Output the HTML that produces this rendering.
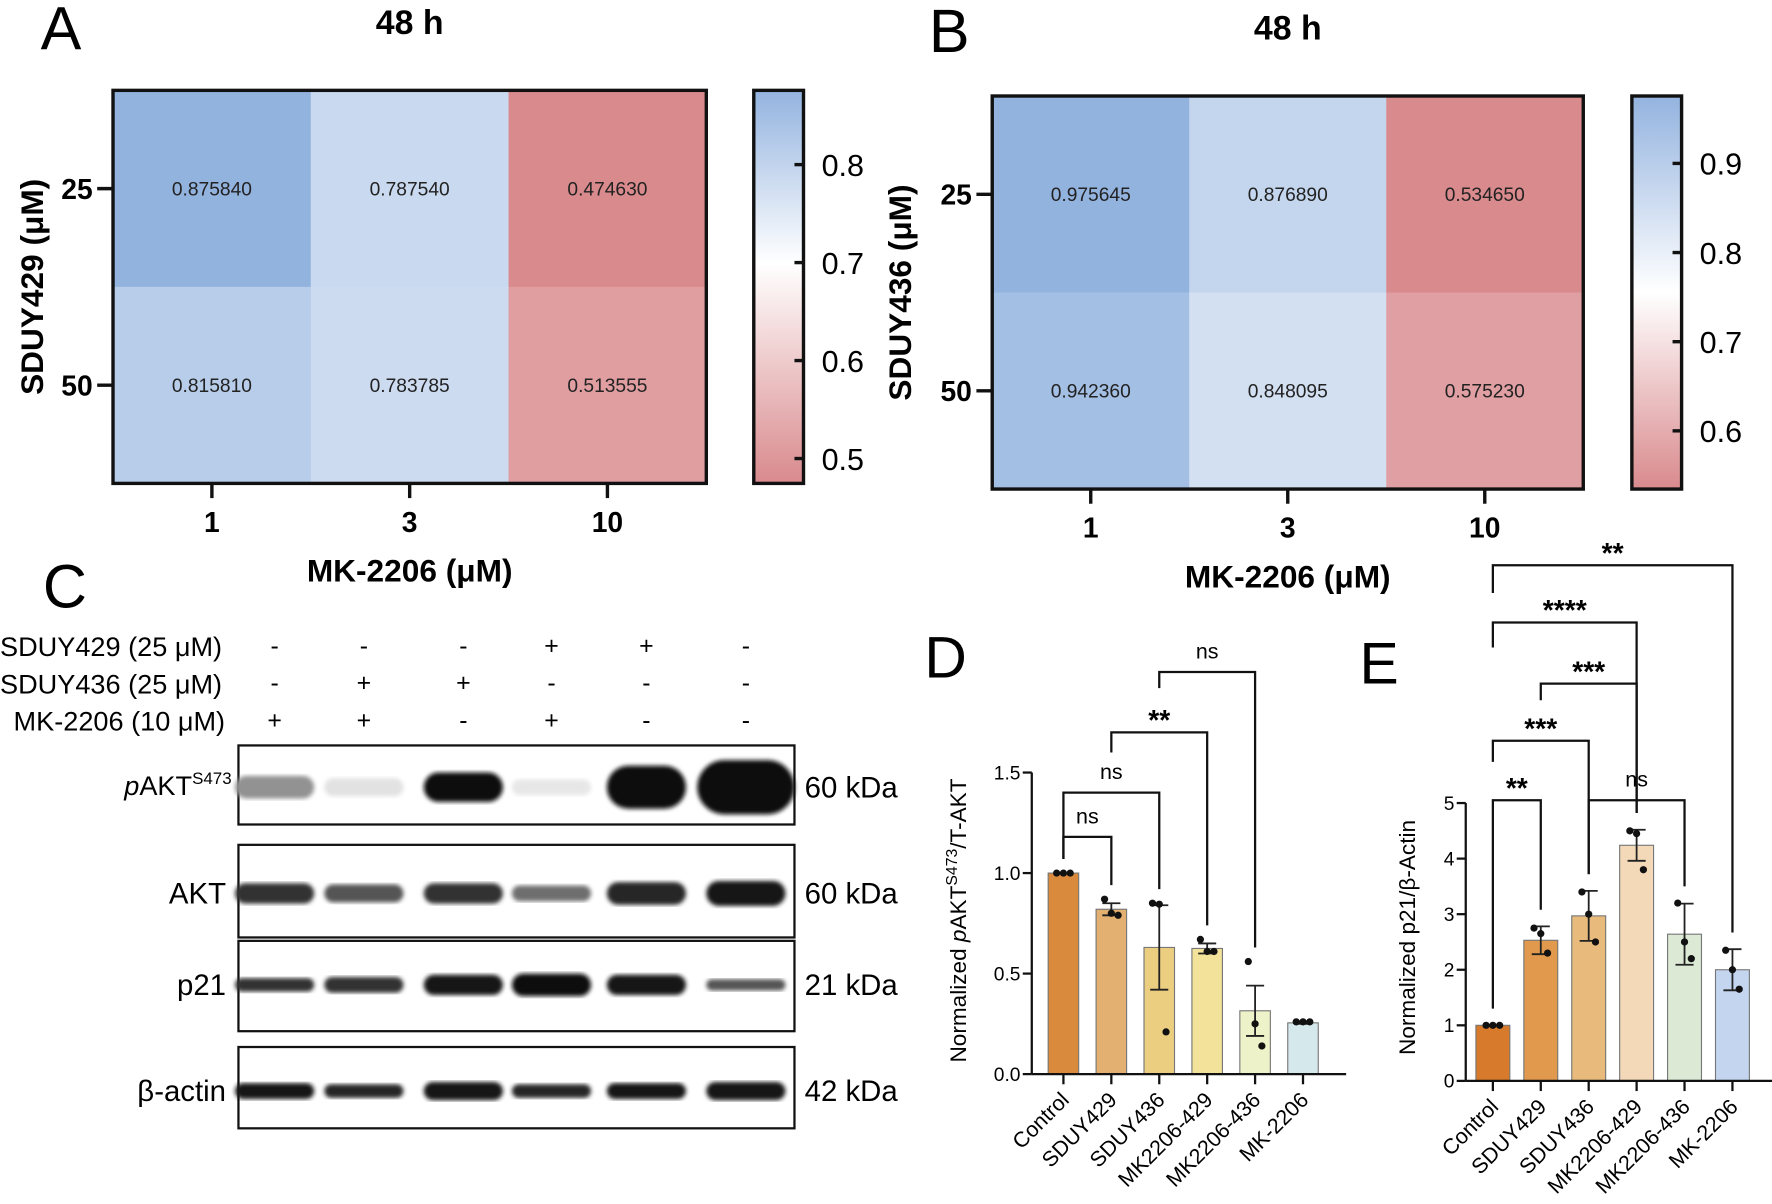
<!DOCTYPE html>
<html><head><meta charset="utf-8"><style>
html,body{margin:0;padding:0;background:#fff;}
svg{display:block;font-family:"Liberation Sans",Arial,sans-serif;}
</style></head><body>
<svg id="fig" width="1772" height="1204" viewBox="0 0 1568 1066" preserveAspectRatio="none">
<defs>
<linearGradient id="cbA" x1="0" y1="0" x2="0" y2="1">
<stop offset="0" stop-color="#93b3df"/><stop offset="0.44" stop-color="#ffffff"/><stop offset="1" stop-color="#d98a8d"/></linearGradient>
<linearGradient id="cbB" x1="0" y1="0" x2="0" y2="1">
<stop offset="0" stop-color="#93b3df"/><stop offset="0.5" stop-color="#ffffff"/><stop offset="1" stop-color="#d98a8d"/></linearGradient>
<filter id="blur"><feGaussianBlur stdDeviation="1.8"/></filter>
</defs>
<g id="root"></g>
</svg>
<script>
// Heatmap data
const hmCols = ["1","3","10"];
const hmRows = ["25","50"];
const hmA = [[0.875840,0.787540,0.474630],[0.815810,0.783785,0.513555]];
const hmB = [[0.975645,0.876890,0.534650],[0.942360,0.848095,0.575230]];
const cbTicksA = [0.8,0.7,0.6,0.5];
const cbTicksB = [0.9,0.8,0.7,0.6];
// Bar chart D
const catsD = ["Control","SDUY429","SDUY436","MK2206-429","MK2206-436","MK-2206"];
const valsD = [1.0,0.82,0.63,0.625,0.315,0.255];
const errD = [0,0.03,0.21,0.025,0.125,0.005];
const ptsD = [[1,1,1],[0.87,0.80,0.79],[0.85,0.845,0.21],[0.67,0.61,0.61],[0.56,0.25,0.14],[0.26,0.26,0.26]];
const ticksD = [0,0.5,1.0,1.5];
const tickLabD = ["0.0","0.5","1.0","1.5"];
const colD = ["#d98a3c","#e3b071","#ecce80","#f2e29a","#eef2c8","#d5e8ec"];
const brD = [[0,1,1.18,"ns",0],[0,2,1.4,"ns",0],[1,3,1.7,"**",0.1],[2,4,2.0,"ns",0.08]];
// Bar chart E
const catsE = ["Control","SDUY429","SDUY436","MK2206-429","MK2206-436","MK-2206"];
const valsE = [1.0,2.53,2.97,4.24,2.64,2.0];
const errE = [0,0.25,0.45,0.28,0.55,0.37];
const ptsE = [[1,1,1],[2.75,2.65,2.3],[3.4,3.0,2.5],[4.5,4.45,3.8],[3.2,2.5,2.2],[2.35,2.0,1.65]];
const ticksE = [0,1,2,3,4,5];
const colE = ["#d87a2b","#e0994d","#e8bb7d","#f3d9b8","#dbe9d5","#c4d6ef"];
const brE = [[0,1,5.05,"**",0],[2,4,5.05,"ns",0],[0,2,6.12,"***",0.38],[1,3,7.15,"***",0.3],[0,3,8.25,"****",0.45],[0,5,9.28,"**",0.5]];

const NS="http://www.w3.org/2000/svg";
const root=document.getElementById('root');
function mk(tag,attrs,parent,text){const e=document.createElementNS(NS,tag);for(const k in attrs)e.setAttribute(k,attrs[k]);if(text!==undefined)e.textContent=text;(parent||root).appendChild(e);return e;}
function lerp(a,b,t){return a+(b-a)*t;}
function hex(c){return [parseInt(c.slice(1,3),16),parseInt(c.slice(3,5),16),parseInt(c.slice(5,7),16)];}
function cmap(v,lo,mid,hi){const B=hex("#93b3df"),W=[255,255,255],R=hex("#d98a8d");let a,b,t;
 if(v>=mid){a=W;b=B;t=(v-mid)/(hi-mid);}else{a=W;b=R;t=(mid-v)/(mid-lo);}t=Math.max(0,Math.min(1,t));
 return "rgb("+a.map((x,i)=>Math.round(lerp(x,b[i],t))).join(",")+")";}

function heatmap(P){
 const g=mk('g',{});
 
 
 const cw=(P.x1-P.x0)/3, rh=(P.y1-P.y0)/2;
 P.data.forEach((row,r)=>row.forEach((v,c)=>{
  const rc=mk('rect',{x:P.x0+c*cw,y:P.y0+r*rh,width:cw+0.5,height:rh+0.5,fill:cmap(v,P.lo,P.mid,P.hi)},g);
  
  
  const t=mk('text',{x:P.x0+(c+0.5)*cw,y:P.y0+(r+0.5)*rh+6,'text-anchor':'middle','font-size':17,fill:'#222'},g,v.toFixed(6));
  
  
 }));
 mk('rect',{x:P.x0,y:P.y0,width:P.x1-P.x0,height:P.y1-P.y0,fill:'none',stroke:'#111','stroke-width':3},g);
 hmRows.forEach((l,r)=>{const y=P.y0+(r+0.5)*rh;mk('line',{x1:P.x0-14,x2:P.x0,y1:y,y2:y,stroke:'#111','stroke-width':3},g);
  const t=mk('text',{x:P.x0-18,y:y+9,'text-anchor':'end','font-size':25,'font-weight':'bold'},g,l);
  
  });
 hmCols.forEach((l,c)=>{const x=P.x0+(c+0.5)*cw;mk('line',{x1:x,x2:x,y1:P.y1,y2:P.y1+13,stroke:'#111','stroke-width':3},g);
  const t=mk('text',{x:x,y:P.y1+43,'text-anchor':'middle','font-size':25,'font-weight':'bold'},g,l);
  
  });
 const cb=mk('rect',{x:P.cx,y:P.y0,width:44,height:P.y1-P.y0,fill:P.grad,stroke:'#111','stroke-width':3},g);
 
 
 P.ticks.forEach(v=>{const y=P.y0+(P.hi-v)/(P.hi-P.lo)*(P.y1-P.y0);
  mk('line',{x1:P.cx+44,x2:P.cx+36,y1:y,y2:y,stroke:'#111','stroke-width':3},g);
  const t=mk('text',{x:P.cx+60,y:y+10,'font-size':27},g,v.toFixed(1));
  
  });
 let t=mk('text',{x:(P.x0+P.x1)/2,y:P.y0-50,'text-anchor':'middle','font-size':30,'font-weight':'bold'},g,'48 h');
 
 
 t=mk('text',{x:(P.x0+P.x1)/2,y:P.y1+87,'text-anchor':'middle','font-size':28,'font-weight':'bold'},g,'MK-2206 (μM)');
 
 
 const ay=(P.y0+P.y1)/2;
 t=mk('text',{x:P.yx,y:ay,'text-anchor':'middle','font-size':28,'font-weight':'bold',transform:`rotate(-90 ${P.yx} ${ay})`},g,P.ytitle);
 
 
 t=mk('text',{x:P.lx,y:P.ly,'font-size':54},g,P.letter);
 
 
}
heatmap({name:'heatmap-a',data:hmA,x0:100,x1:625,y0:80,y1:428,cx:667,lo:0.4746,mid:0.7,hi:0.8758,ticks:cbTicksA,grad:'url(#cbA)',ytitle:'SDUY429 (μM)',yx:38,letter:'A',lx:36,ly:44});
heatmap({name:'heatmap-b',data:hmB,x0:878,x1:1401,y0:85,y1:433,cx:1444,lo:0.5347,mid:0.76,hi:0.9756,ticks:cbTicksB,grad:'url(#cbB)',ytitle:'SDUY436 (μM)',yx:806,letter:'B',lx:822,ly:46});

(function(){
 const g=mk('g',{});
 
 
 let t=mk('text',{x:38,y:538,'font-size':54},g,'C');
 
 
 const rows=[["SDUY429 (25 μM)",0,581,["-","-","-","+","+","-"]],
  ["SDUY436 (25 μM)",0,614,["-","+","+","-","-","-"]],["MK-2206 (10 μM)",12,647,["+","+","-","+","-","-"]]];
 const lx=[243,322,410,488,572,660];
 rows.forEach(r=>{t=mk('text',{x:r[1],y:r[2],'font-size':24},g,r[0]);
  
  
  r[3].forEach((s,i)=>{const e=mk('text',{x:lx[i],y:r[2]-2,'text-anchor':'middle','font-size':22},g,s);
   
   });});
 const blots=[["pAKT",660,730,697,"60 kDa",[[0.45,10],[0.12,8],[1,13],[0.1,7],[1,19],[1,24]]],
  ["AKT",748,830,791,"60 kDa",[[0.85,9],[0.7,8],[0.85,9],[0.6,7],[0.9,10],[0.95,11]]],
  ["p21",833,913,872,"21 kDa",[[0.85,6],[0.85,7],[0.95,9],[1,10],[0.95,9],[0.7,5]]],
  ["β-actin",927,999,966,"42 kDa",[[0.95,7],[0.9,6],[0.95,8],[0.9,6],[0.95,7],[0.95,8]]]];
 blots.forEach(b=>{
  const bg=mk('g',{},g);
  
  
  mk('rect',{x:211,y:b[1],width:492,height:b[2]-b[1],fill:'#fff',stroke:'#111','stroke-width':2},bg);
  b[5].forEach((bd,i)=>{const c=Math.round(255*(1-bd[0]*0.95));
   const w=i==5&&b[0]=="pAKT"?86:70;
   mk('rect',{x:lx[i]-w/2,y:b[3]-bd[1],width:w,height:bd[1]*2,rx:bd[1],fill:`rgb(${c},${c},${c})`,filter:'url(#blur)'},bg);});
  let lt;
  if(b[0]=="pAKT"){lt=mk('text',{x:205,y:b[3]+7,'text-anchor':'end','font-size':24},bg);
   mk('tspan',{'font-style':'italic'},lt,'p');mk('tspan',{},lt,'AKT');mk('tspan',{'font-size':15,dy:-10},lt,'S473');}
  else lt=mk('text',{x:200,y:b[3]+9,'text-anchor':'end','font-size':26},bg,b[0]);
  
  
  const k=mk('text',{x:712,y:b[3]+9,'font-size':26},bg,b[4]);
  
  
 });
})();

function barChart(P){
 const g=mk('g',{});
 
 
 const Y=v=>P.y0-(v-P.min)/(P.max-P.min)*(P.y0-P.yTop);
 const X=i=>P.xc0+i*P.dx;
 P.vals.forEach((v,i)=>{
  const r=mk('rect',{x:X(i)-P.bw/2,y:Y(v),width:P.bw,height:Y(0)-Y(v),fill:P.cols[i],stroke:'#777','stroke-width':1},g);
  
  
  if(P.err[i]>0){const e=mk('g',{stroke:'#222','stroke-width':1.6},g);
   
   
   mk('line',{x1:X(i),x2:X(i),y1:Y(v-P.err[i]),y2:Y(v+P.err[i])},e);
   [v-P.err[i],v+P.err[i]].forEach(w=>mk('line',{x1:X(i)-8,x2:X(i)+8,y1:Y(w),y2:Y(w)},e));}
  P.pts[i].forEach((p,j)=>{const d=mk('circle',{cx:X(i)+(j-1)*6,cy:Y(p),r:3.2,fill:'#111'},g);
   
   });
  const lx=X(i)+6,ly=Y(0)+24;
  const t=mk('text',{x:lx,y:ly,'text-anchor':'end','font-size':19,transform:`rotate(-45 ${lx} ${ly})`},g,P.cats[i]);
  
  
  mk('line',{x1:X(i),x2:X(i),y1:Y(0),y2:Y(0)+9,stroke:'#111','stroke-width':2},g);
 });
 mk('line',{x1:P.ax,x2:P.ax,y1:Y(P.max),y2:Y(0),stroke:'#111','stroke-width':2},g);
 mk('line',{x1:P.ax,x2:X(5)+P.dx*0.9,y1:Y(0),y2:Y(0),stroke:'#111','stroke-width':2},g);
 P.ticks.forEach((v,i)=>{mk('line',{x1:P.ax-8,x2:P.ax,y1:Y(v),y2:Y(v),stroke:'#111','stroke-width':2},g);
  const t=mk('text',{x:P.ax-10,y:Y(v)+6,'text-anchor':'end','font-size':17},g,P.tickLab[i]);
  
  });
 P.br.forEach(b=>{const y=Y(b[2]);const x1=X(b[0]),x2=X(b[1]);
  const bg=mk('g',{},g);
  
  
  const d1=b[4]>0?Y(b[2]-b[4]):Y(Math.max(P.vals[b[0]]+P.err[b[0]],Math.max(...P.pts[b[0]]))+P.gap);
  const d2=Y(Math.max(P.vals[b[1]]+P.err[b[1]],Math.max(...P.pts[b[1]]))+P.gap);
  mk('polyline',{points:`${x1},${d1} ${x1},${y} ${x2},${y} ${x2},${d2}`,fill:'none',stroke:'#111','stroke-width':2},bg);
  const ns=b[3]=='ns';
  const t=mk('text',{x:(x1+x2)/2,y:y-(ns?12:2),'text-anchor':'middle','font-size':ns?19:25,'font-weight':ns?'normal':'bold'},bg,b[3]);
  
  });
 const ay=P.ylabY;
 const t=mk('text',{x:P.ylabX,y:ay,'text-anchor':'middle','font-size':20,transform:`rotate(-90 ${P.ylabX} ${ay})`},g);
 
 
 P.ylab(t);
 const L=mk('text',{x:P.lx,y:P.ly,'font-size':52},g,P.letter);
 
 
}
barChart({name:'bar-chart-d',cats:catsD,vals:valsD,err:errD,pts:ptsD,cols:colD,br:brD,ticks:ticksD,tickLab:tickLabD,
 min:0,max:1.5,y0:951,yTop:684,ax:913,xc0:941,dx:42.4,bw:27,gap:0.07,ylabX:855,ylabY:815,letter:'D',lx:818,ly:600,
 ylab:t=>{t.appendChild(document.createTextNode('Normalized '));mk('tspan',{'font-style':'italic'},t,'p');mk('tspan',{},t,'AKT');mk('tspan',{'font-size':14,dy:-8},t,'S473');mk('tspan',{dy:8},t,'/T-AKT');}});
barChart({name:'bar-chart-e',cats:catsE,vals:valsE,err:errE,pts:ptsE,cols:colE,br:brE,ticks:ticksE,tickLab:ticksE.map(String),
 min:0,max:5,y0:957,yTop:711,ax:1297,xc0:1321,dx:42.4,bw:30,gap:0.3,ylabX:1252,ylabY:830,letter:'E',lx:1203,ly:605,
 ylab:t=>{t.textContent='Normalized p21/β-Actin';}});
</script>
</body></html>
